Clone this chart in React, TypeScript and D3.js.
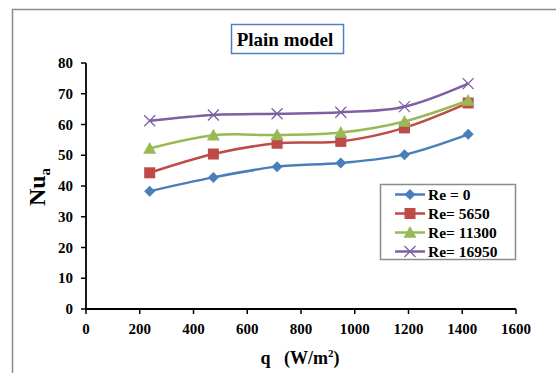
import React from "react";
import * as d3 from "d3";

const qValues = [237, 474, 711, 948, 1185, 1422];
const re0 = [38.3, 42.8, 46.3, 47.5, 50.2, 56.8];
const re5650 = [44.3, 50.4, 53.9, 54.5, 58.9, 67.0];
const re11300 = [52.2, 56.5, 56.6, 57.4, 61.0, 67.8];
const re16950 = [61.2, 63.1, 63.5, 64.0, 65.8, 73.3];
const seriesNames = ["Re = 0", "Re= 5650", "Re= 11300", "Re= 16950"];
const xTicks = [0, 200, 400, 600, 800, 1000, 1200, 1400, 1600];
const yTicks = [0, 10, 20, 30, 40, 50, 60, 70, 80];

const colors = ["#4a7ebb", "#be4b48", "#98b954", "#7d60a0"];
const markers = ["diamond", "square", "triangle", "x"];

function Marker({ type, x, y, color }: { type: string; x: number; y: number; color: string }) {
  if (type === "diamond") {
    const s = 5.5;
    return <path d={`M${x},${y - s}L${x + s},${y}L${x},${y + s}L${x - s},${y}Z`} fill={color} />;
  }
  if (type === "square") {
    const s = 5.5;
    return <rect x={x - s} y={y - s} width={2 * s} height={2 * s} fill={color} />;
  }
  if (type === "triangle") {
    const s = 6.5;
    return <path d={`M${x},${y - s}L${x + s},${y + s * 0.8}L${x - s},${y + s * 0.8}Z`} fill={color} />;
  }
  const s = 5.5;
  return (
    <path d={`M${x - s},${y - s}L${x + s},${y + s}M${x - s},${y + s}L${x + s},${y - s}`} stroke={color} strokeWidth={1.3} fill="none" />
  );
}

export default function App() {
  const allSeries = [re0, re5650, re11300, re16950];
  const x = d3.scaleLinear().domain([0, 1600]).range([86, 516]);
  const y = d3.scaleLinear().domain([0, 80]).range([309, 63]);
  const line = d3
    .line<number>()
    .x((_, i) => x(qValues[i]))
    .y((d) => y(d))
    .curve(d3.curveCatmullRom.alpha(0));
  const font = "'Liberation Serif', 'Times New Roman', serif";

  return (
    <svg width={556} height={373} style={{ position: "absolute", left: 0, top: 0, background: "#fff" }}>
      <rect x={0} y={0} width={556} height={373} fill="#fff" />
      <path d="M12.5,373V9.5H556" fill="none" stroke="#8c8c8c" strokeWidth={1.5} />
      {/* title */}
      <rect x={231.5} y={24.5} width={112} height={29} fill="#fff" stroke="#4f81bd" strokeWidth={1.5} />
      <text x={285} y={46} textAnchor="middle" fontFamily={font} fontWeight="bold" fontSize={19}>
        Plain model
      </text>
      {/* axes */}
      <line x1={86} x2={86} y1={63} y2={310} stroke="#000" strokeWidth={1.8} />
      <line x1={85} x2={516} y1={309} y2={309} stroke="#000" strokeWidth={1.8} />
      {yTicks.map((t) => (
        <g key={"y" + t}>
          <line x1={81} x2={86} y1={y(t)} y2={y(t)} stroke="#000" strokeWidth={1.5} />
          <text x={73} y={y(t) + 5} textAnchor="end" fontFamily={font} fontWeight="bold" fontSize={15}>
            {t}
          </text>
        </g>
      ))}
      {xTicks.map((t) => (
        <g key={"x" + t}>
          <line x1={x(t)} x2={x(t)} y1={309} y2={314} stroke="#000" strokeWidth={1.5} />
          <text x={x(t)} y={334} textAnchor="middle" fontFamily={font} fontWeight="bold" fontSize={15}>
            {t}
          </text>
        </g>
      ))}
      <text transform="translate(45,187) rotate(-90)" textAnchor="middle" fontFamily={font} fontWeight="bold" fontSize={24}>
        Nu<tspan fontSize={15} dy={5}>a</tspan>
      </text>
      <text x={300} y={364} textAnchor="middle" fontFamily={font} fontWeight="bold" fontSize={18}>
        q{"\u00a0\u00a0\u00a0"}(W/m<tspan fontSize={11} dy={-7}>2</tspan>
        <tspan dy={7}>)</tspan>
      </text>
      {/* series */}
      {allSeries.map((s, si) => (
        <g key={si}>
          <path d={line(s) || ""} fill="none" stroke={colors[si]} strokeWidth={2.5} />
          {s.map((v, i) => (
            <Marker key={i} type={markers[si]} x={x(qValues[i])} y={y(v)} color={colors[si]} />
          ))}
        </g>
      ))}
      {/* legend */}
      <rect x={380.5} y={184.5} width={135} height={75} fill="#fff" stroke="#8c8c8c" strokeWidth={1.5} />
      {seriesNames.map((n, i) => {
        const ly = 194.5 + i * 19;
        return (
          <g key={n}>
            <line x1={395} x2={425} y1={ly} y2={ly} stroke={colors[i]} strokeWidth={2.5} />
            <Marker type={markers[i]} x={410} y={ly} color={colors[i]} />
            <text x={428} y={ly + 5} fontFamily={font} fontWeight="bold" fontSize={15.5}>
              {n}
            </text>
          </g>
        );
      })}
    </svg>
  );
}
